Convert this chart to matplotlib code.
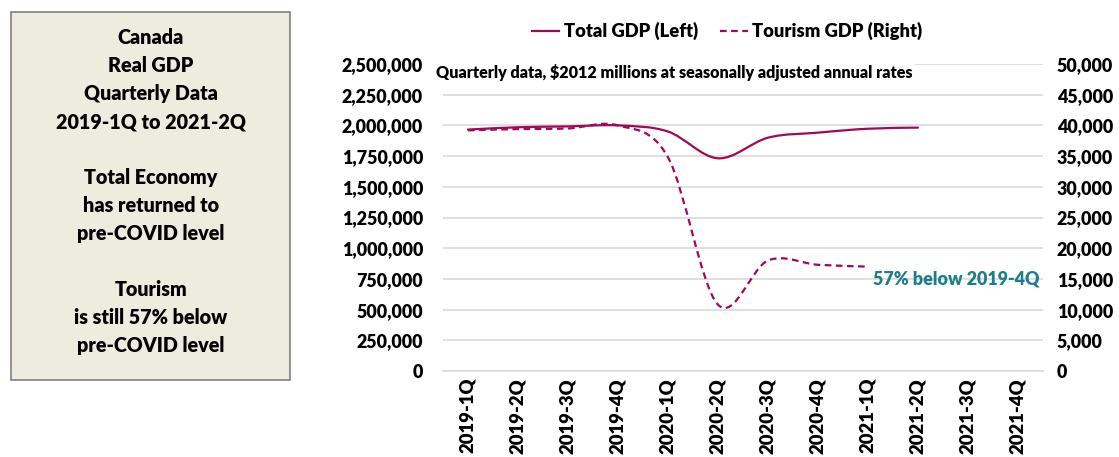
import matplotlib
matplotlib.use("Agg")
import matplotlib.pyplot as plt
from matplotlib.path import Path
from matplotlib.patches import PathPatch, Rectangle
from matplotlib.lines import Line2D
from matplotlib.ticker import FuncFormatter, MultipleLocator
from matplotlib.font_manager import FontProperties

quarters = ["2019-1Q", "2019-2Q", "2019-3Q", "2019-4Q", "2020-1Q", "2020-2Q",
            "2020-3Q", "2020-4Q", "2021-1Q", "2021-2Q", "2021-3Q", "2021-4Q"]
total_gdp = [1966000, 1985000, 1992000, 2000000, 1950000, 1732000,
             1900000, 1941000, 1973000, 1982000]
tourism_gdp = [39200, 39400, 39500, 40000, 34800, 10800,
               18000, 17300, 17000]

LINE_COLOR = "#A0085A"
TEAL = "#1B7F8B"
W = 800


def fp(size):
    return FontProperties(family='Lato', weight=W, size=size)


def smooth_path(xs, ys):
    pts = list(zip(xs, ys))
    verts = [pts[0]]
    codes = [Path.MOVETO]
    n = len(pts)
    for i in range(n - 1):
        p0 = pts[i - 1] if i > 0 else pts[i]
        p1 = pts[i]
        p2 = pts[i + 1]
        p3 = pts[i + 2] if i + 2 < n else pts[i + 1]
        c1 = (p1[0] + (p2[0] - p0[0]) / 6.0, p1[1] + (p2[1] - p0[1]) / 6.0)
        c2 = (p2[0] - (p3[0] - p1[0]) / 6.0, p2[1] - (p3[1] - p1[1]) / 6.0)
        verts += [c1, c2, p2]
        codes += [Path.CURVE4] * 3
    return Path(verts, codes)


fig = plt.figure(figsize=(11.19, 4.57), dpi=100)
ax = fig.add_axes([443 / 1119, 1 - 371 / 457, 600 / 1119, 307 / 457])
ax2 = ax.twinx()

x = list(range(len(quarters)))
ax.set_xlim(-0.5, len(quarters) - 0.5)
ax.set_ylim(0, 2500000)
ax2.set_ylim(0, 50000)
ax.yaxis.set_major_locator(MultipleLocator(250000))
ax2.yaxis.set_major_locator(MultipleLocator(5000))
fmt = FuncFormatter(lambda v, p: f"{int(v):,}")
ax.yaxis.set_major_formatter(fmt)
ax2.yaxis.set_major_formatter(fmt)

ax.grid(axis='y', color='#D9D9D9', linewidth=1.2)
ax.set_axisbelow(True)
for a in (ax, ax2):
    for s in a.spines.values():
        s.set_visible(False)
ax.spines['bottom'].set_visible(True)
ax.spines['bottom'].set_color('#D9D9D9')
ax.spines['bottom'].set_linewidth(1.2)

ax.set_xticks(x)
ax.set_xticklabels(quarters, rotation=90)
ax.tick_params(axis='x', length=0, pad=5)
ax.tick_params(axis='y', length=0, pad=14.4)
ax2.tick_params(axis='y', length=0, pad=10)
fig.canvas.draw()
for lab in ax.get_xticklabels():
    lab.set_fontproperties(fp(13.3))
for lab in ax.get_yticklabels() + ax2.get_yticklabels():
    lab.set_fontproperties(fp(12.9))

p1 = smooth_path(x[:len(total_gdp)], total_gdp)
ax.add_patch(PathPatch(p1, facecolor='none', edgecolor=LINE_COLOR, linewidth=1.6,
                       capstyle='round'))
p2 = smooth_path(x[:len(tourism_gdp)], tourism_gdp)
ax2.add_patch(PathPatch(p2, facecolor='none', edgecolor=LINE_COLOR, linewidth=1.6,
                        linestyle=(0, (3, 2))))

ax.text(-0.64, 2434000, "Quarterly data, $2012 millions at seasonally adjusted annual rates",
        fontproperties=fp(11.65), va='center', ha='left',
        bbox=dict(facecolor='white', edgecolor='none', pad=1.5), zorder=5)

ax2.text(8.1, 14950, "57% below 2019-4Q", color=TEAL, fontproperties=fp(12.9),
         ha='left', va='center')

handles = [Line2D([0], [0], color=LINE_COLOR, lw=1.6),
           Line2D([0], [0], color=LINE_COLOR, lw=1.6, linestyle=(0, (3, 2)))]
fig.legend(handles, ["Total GDP (Left)", "Tourism GDP (Right)"], loc='center',
           bbox_to_anchor=(727 / 1119, 1 - 31 / 457), ncol=2, frameon=False,
           prop=fp(13.2), handlelength=1.5, handletextpad=0.25,
           columnspacing=1.2)

box = Rectangle((11 / 1119, 1 - 380 / 457), 279 / 1119, 368 / 457,
                transform=fig.transFigure, facecolor='#EEEBDF', edgecolor='#808080',
                linewidth=1.2)
fig.patches.append(box)

box_text = ("Canada\nReal GDP\nQuarterly Data\n2019-1Q to 2021-2Q\n\n"
            "Total Economy\nhas returned to\npre-COVID level\n\n"
            "Tourism\nis still 57% below\npre-COVID level")
fig.text(151 / 1119, 1 - 191.5 / 457, box_text, ha='center', va='center',
         fontproperties=fp(14.2), linespacing=1.56)

fig.savefig("out.png", dpi=100)
